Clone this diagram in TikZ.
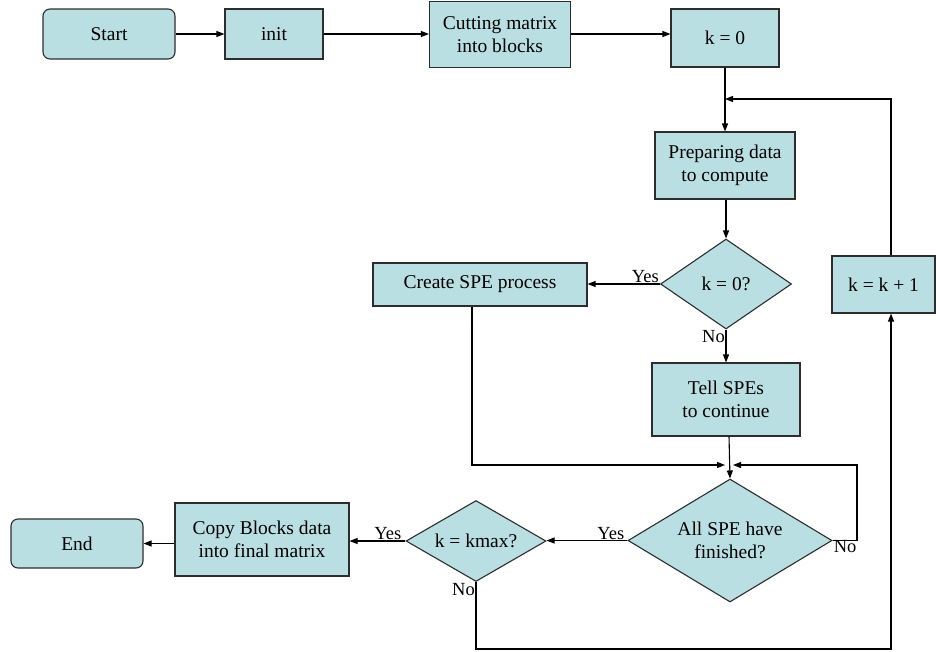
\documentclass[tikz,border=0pt]{standalone}
\usepackage{fontspec}
\setmainfont{Liberation Serif}
\usetikzlibrary{arrows.meta,shapes.geometric}
\definecolor{boxfill}{RGB}{185,223,227}
\definecolor{edge}{RGB}{45,45,45}
\begin{document}
\begin{tikzpicture}[x=1pt,y=-1pt,
  font=\fontsize{19.5}{23}\selectfont,
  box/.style={draw=edge,fill=boxfill,line width=1.1pt,inner sep=0pt,align=center},
  term/.style={box,rounded corners=7pt},
  decide/.style={box,diamond},
  conn/.style={line width=1.1pt,draw=black},
  arr/.style={conn,-{Triangle[length=8pt,width=6pt]}},
  lab/.style={inner sep=1pt,font=\fontsize{18.5}{21}\selectfont}]
\useasboundingbox (0,0) rectangle (936,651);
% nodes
\node[term,minimum width=132pt,minimum height=50pt] (start) at (109,34) {Start};
\node[box,minimum width=98pt,minimum height=50pt] (init) at (274,34) {init};
\node[box,minimum width=141pt,minimum height=66pt] (cut) at (500,34.5) {Cutting matrix\\into blocks};
\node[box,minimum width=108pt,minimum height=58pt] (k0) at (725,38) {k = 0};
\node[box,minimum width=140pt,minimum height=67pt] (prep) at (725,165.5) {Preparing data\\to compute};
\node[decide,shape aspect=1.46,minimum width=131pt,minimum height=90pt] (q0) at (726,284) {k = 0?};
\node[box,minimum width=103pt,minimum height=57pt] (inc) at (883.5,284.5) {k = k + 1};
\node[box,minimum width=214pt,minimum height=43pt] (create) at (480,284.5) {Create SPE process};
\node[box,minimum width=148pt,minimum height=73pt] (tell) at (726,399.5) {Tell SPEs\\to continue};
\node[decide,shape aspect=1.66,minimum width=204pt,minimum height=123pt] (done) at (730,540.5) {All SPE have\\finished?};
\node[decide,shape aspect=1.73,minimum width=140pt,minimum height=81pt] (kmax) at (476,541) {k = kmax?};
\node[box,minimum width=174pt,minimum height=73pt] (copy) at (262,539.5) {Copy Blocks data\\into final matrix};
\node[term,minimum width=132pt,minimum height=49pt] (end) at (77,543.5) {End};
% junction coordinates
\coordinate (j1) at (725,99);
\coordinate (m) at (729,465);
\coordinate (mL) at (725,465);
\coordinate (mR) at (733,465);
\coordinate (rr) at (857,539);
\coordinate (bb) at (476,649);
\coordinate (incx) at (891,0);
% connectors
\draw[arr] (start.east) -- (init.west);
\draw[arr] (init.east) -- (cut.west |- init.east);
\draw[arr] (cut.east |- init.east) -- (k0.west |- init.east);
\draw[arr] (k0.south) -- (prep.north);
\draw[arr] (inc.north -| incx) |- (j1);
\draw[arr] (prep.south -| q0.north) -- (q0.north);
\draw[arr] (q0.west) -- (create.east |- q0.west);
\draw[arr] (q0.south) -- (tell.north);
\draw[arr] (create.south -| 472,0) |- (mL);
\draw[arr] (tell.south -| m) -- (done.north);
\draw[arr] (done.east) -| (rr |- m) -- (mR);
\draw[arr] (done.west) -- (kmax.east |- done.west);
\draw[arr] (kmax.west) -- (copy.east |- kmax.west);
\draw[arr] (copy.west |- end.east) -- (end.east);
\draw[arr] (kmax.south) |- (bb -| incx) -- (inc.south -| incx);
% labels
\node[lab,anchor=south east] (l1) at (q0.west) {Yes};
\node[lab,anchor=north east] (l2) at (q0.south) {No};
\node[lab,anchor=south east] (l3) at ([xshift=-2pt]done.west) {Yes};
\node[lab,anchor=north west] (l4) at ([yshift=1pt]done.east) {No};
\node[lab,anchor=south east] (l5) at ([xshift=-3pt]kmax.west) {Yes};
\node[lab,anchor=north east] (l6) at (kmax.south) {No};
\end{tikzpicture}
\end{document}
